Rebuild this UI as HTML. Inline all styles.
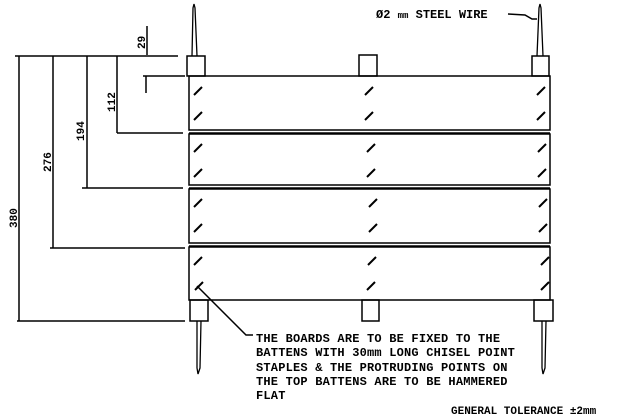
<!DOCTYPE html>
<html><head><meta charset="utf-8"><style>
html,body{margin:0;padding:0;background:#fff;}
svg{display:block;}
text{font-family:"Liberation Mono",monospace;font-weight:bold;fill:#000;}
</style></head><body>
<svg width="621" height="418" viewBox="0 0 621 418" xmlns="http://www.w3.org/2000/svg">
<g stroke="#000" fill="none" stroke-width="1.5">
<!-- boards -->
<rect x="189" y="76" width="361" height="54"/>
<line x1="189" y1="133" x2="550" y2="133"/>
<rect x="189" y="134" width="361" height="51"/>
<line x1="189" y1="188" x2="550" y2="188"/>
<rect x="189" y="189" width="361" height="54"/>
<line x1="189" y1="246" x2="550" y2="246"/>
<rect x="189" y="247" width="361" height="53"/>
<!-- battens top -->
<rect x="187" y="56" width="18" height="20"/>
<rect x="359" y="55" width="18" height="21"/>
<rect x="532" y="56" width="17" height="20"/>
<!-- battens bottom -->
<rect x="190" y="300" width="18" height="21"/>
<rect x="362" y="300" width="17" height="21"/>
<rect x="534" y="300" width="19" height="21"/>
<!-- wires -->
<path d="M192 56 L193 8 L194 4 L195 8 L197 56" stroke-width="1.3"/>
<path d="M537 56 L539 8 L540 4 L541 8 L543 56" stroke-width="1.3"/>
<path d="M197 321 L197 368 L198 374 L200 368 L201 321" stroke-width="1.3"/>
<path d="M542 321 L542 368 L543 374 L545 368 L546 321" stroke-width="1.3"/>
<!-- dimension lines -->
<line x1="15" y1="56" x2="178" y2="56"/>
<line x1="19" y1="56" x2="19" y2="321"/>
<line x1="53" y1="56" x2="53" y2="248"/>
<line x1="87" y1="56" x2="87" y2="188"/>
<line x1="117" y1="56" x2="117" y2="133"/>
<line x1="117" y1="133" x2="183" y2="133"/>
<line x1="82" y1="188" x2="183" y2="188"/>
<line x1="50" y1="248" x2="185" y2="248"/>
<line x1="17" y1="321" x2="185" y2="321"/>
<line x1="147" y1="26" x2="147" y2="55"/>
<line x1="143" y1="76" x2="185" y2="76"/>
<line x1="146" y1="76" x2="146" y2="93"/>
<!-- leaders -->
<path d="M197 286 L246 335 L253 335"/>
<path d="M508 14 L525 15 L532 19 L537 19"/>
</g>
<g stroke="#000" stroke-width="2">
<!-- staple marks -->
<path d="M194 95 l8 -8 M194 120 l8 -8 M194 152 l8 -8 M194 177 l8 -8 M194 207 l8 -8 M194 232 l8 -8 M194 265 l8 -8 M195 290 l8 -8"/>
<path d="M365 95 l8 -8 M365 120 l8 -8 M367 152 l8 -8 M367 177 l8 -8 M369 207 l8 -8 M369 232 l8 -8 M368 265 l8 -8 M367 290 l8 -8"/>
<path d="M537 95 l8 -8 M537 120 l8 -8 M538 152 l8 -8 M538 177 l8 -8 M539 207 l8 -8 M539 232 l8 -8 M541 265 l8 -8 M541 290 l8 -8"/>
</g>
<g font-size="11">
<text transform="translate(145,49) rotate(-90)">29</text>
<text transform="translate(115,112) rotate(-90)">112</text>
<text transform="translate(84,141) rotate(-90)">194</text>
<text transform="translate(51,172) rotate(-90)">276</text>
<text transform="translate(17,228) rotate(-90)">380</text>
</g>
<text x="376" y="18" font-size="12">Ø2 <tspan font-size="9">mm</tspan> STEEL WIRE</text>
<g font-size="12" letter-spacing="0.2">
<text x="256" y="342">THE BOARDS ARE TO BE FIXED TO THE</text>
<text x="256" y="356">BATTENS WITH 30mm LONG CHISEL POINT</text>
<text x="256" y="371">STAPLES &amp; THE PROTRUDING POINTS ON</text>
<text x="256" y="385">THE TOP BATTENS ARE TO BE HAMMERED</text>
<text x="256" y="399">FLAT</text>
</g>
<text x="451" y="414" font-size="11">GENERAL TOLERANCE ±2mm</text>
</svg>
</body></html>
